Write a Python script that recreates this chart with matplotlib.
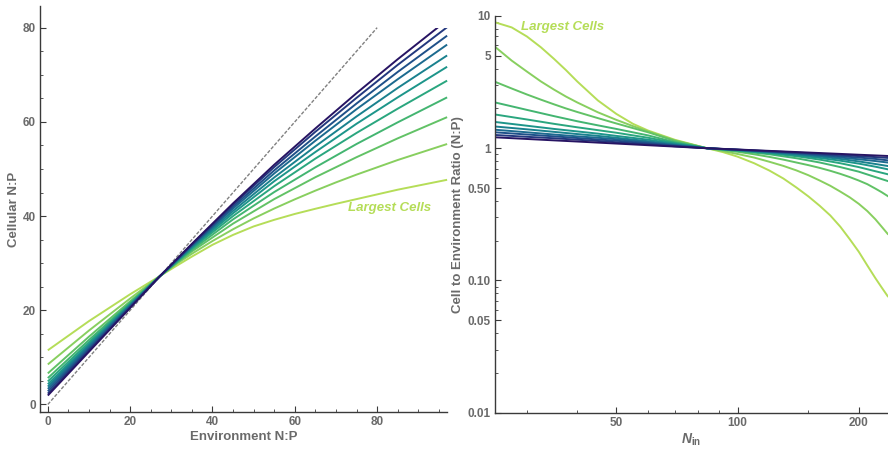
import matplotlib
matplotlib.use("Agg")
import matplotlib.pyplot as plt
from matplotlib.patches import Rectangle
from matplotlib.ticker import FixedLocator, NullFormatter, FixedFormatter

plt.rcParams['font.family'] = ['Liberation Sans', 'DejaVu Sans']
plt.rcParams['mathtext.fontset'] = 'custom'
plt.rcParams['mathtext.it'] = 'Liberation Sans:italic:bold'
plt.rcParams['mathtext.rm'] = 'Liberation Sans:bold'

# ---------------- data ----------------
# Left panel: cellular N:P vs environment N:P (smallest cells -> largest cells)
ENV_NP = [0, 10, 20, 27.3, 35, 45, 55, 65, 75, 85, 97]
ENV_NP_FINE = [0, 10, 20, 27.3, 31, 35, 40, 45, 50, 55, 60, 65, 70, 75, 85, 97]
CELL_NP_1 = [1.9, 11.2, 20.5, 27.3, 34.1, 42.7, 50.9, 58.6, 66.1, 73.3, 81.6]
CELL_NP_2 = [2.3, 11.5, 20.6, 27.3, 34.0, 42.4, 50.4, 57.9, 65.1, 72.1, 80.1]
CELL_NP_3 = [2.8, 11.8, 20.8, 27.3, 33.8, 42.0, 49.7, 56.9, 63.9, 70.6, 78.3]
CELL_NP_4 = [3.3, 12.15, 20.9, 27.3, 33.7, 41.6, 49.05, 56.0, 62.7, 69.05, 76.4]
CELL_NP_5 = [3.8, 12.5, 21.1, 27.3, 33.5, 41.1, 48.2, 54.8, 61.15, 67.2, 74.1]
CELL_NP_6 = [4.3, 12.8, 21.2, 27.3, 33.3, 40.6, 47.4, 53.6, 59.6, 65.2, 71.7]
CELL_NP_7 = [4.9, 13.2, 21.4, 27.3, 33.1, 40.0, 46.35, 52.2, 57.65, 62.8, 68.75]
CELL_NP_8 = [5.6, 13.7, 21.6, 27.3, 32.8, 39.3, 45.1, 50.35, 55.3, 59.9, 65.2]
CELL_NP_9 = [6.6, 14.4, 21.9, 27.3, 32.5, 38.4, 43.6, 48.25, 52.5, 56.5, 61.0]
CELL_NP_10 = [8.5, 15.7, 22.5, 27.3, 29.7, 32.0, 34.7, 37.2, 39.5, 41.6, 43.55,
              45.4, 47.15, 48.8, 51.9, 55.3]
CELL_NP_11 = [11.5, 17.7, 23.4, 27.3, 29.3, 31.4, 33.9, 36.0, 37.8, 39.2, 40.45,
              41.55, 42.6, 43.6, 45.6, 47.7]
CELL_NP = [CELL_NP_1, CELL_NP_2, CELL_NP_3, CELL_NP_4, CELL_NP_5, CELL_NP_6,
           CELL_NP_7, CELL_NP_8, CELL_NP_9, CELL_NP_10, CELL_NP_11]
ENV_GRIDS = [ENV_NP] * 9 + [ENV_NP_FINE, ENV_NP_FINE]
ONE_TO_ONE = [0, 80]

# Right panel: cell-to-environment N:P ratio vs N_in
N_IN = [25, 30, 35, 40, 45, 50, 60, 70, 84, 100, 120, 140, 160, 180, 200, 220, 236]
N_IN_FINE = [25, 27.5, 30, 32.5, 35, 37.5, 40, 45, 50, 55, 60, 70, 84, 92, 100, 110,
             120, 130, 140, 150, 160, 170, 180, 190, 200, 210, 220, 228, 236]
RATIO_1 = [1.21, 1.175, 1.147, 1.124, 1.103, 1.085, 1.054, 1.029, 1.0,
           0.978, 0.955, 0.936, 0.92, 0.906, 0.893, 0.882, 0.874]
RATIO_2 = [1.26, 1.22, 1.19, 1.16, 1.135, 1.11, 1.07, 1.035, 1.0,
           0.976, 0.95, 0.928, 0.908, 0.89, 0.872, 0.857, 0.845]
RATIO_3 = [1.32, 1.27, 1.23, 1.195, 1.165, 1.14, 1.09, 1.045, 1.0,
           0.974, 0.945, 0.92, 0.895, 0.87, 0.85, 0.83, 0.81]
RATIO_4 = [1.38, 1.32, 1.27, 1.23, 1.20, 1.17, 1.11, 1.055, 1.0,
           0.972, 0.94, 0.91, 0.88, 0.85, 0.825, 0.80, 0.78]
RATIO_5 = [1.46, 1.39, 1.33, 1.28, 1.24, 1.20, 1.13, 1.065, 1.0,
           0.97, 0.935, 0.9, 0.865, 0.83, 0.795, 0.76, 0.734]
RATIO_6 = [1.58, 1.48, 1.40, 1.34, 1.29, 1.24, 1.16, 1.08, 1.0,
           0.966, 0.925, 0.885, 0.845, 0.805, 0.765, 0.725, 0.693]
RATIO_7 = [1.80, 1.65, 1.53, 1.44, 1.37, 1.31, 1.2, 1.095, 1.0,
           0.962, 0.915, 0.87, 0.82, 0.77, 0.72, 0.67, 0.636]
RATIO_8 = [2.22, 1.95, 1.75, 1.6, 1.49, 1.4, 1.25, 1.11, 1.0,
           0.955, 0.9, 0.84, 0.78, 0.72, 0.665, 0.605, 0.565]
RATIO_9 = [3.18, 2.83, 2.55, 2.33, 2.15, 2.0, 1.88, 1.69, 1.54, 1.42, 1.32, 1.135, 1.0,
           0.97, 0.94, 0.9, 0.86, 0.82, 0.78, 0.745, 0.71, 0.675, 0.64, 0.605, 0.57,
           0.535, 0.495, 0.465, 0.435]
RATIO_10 = [5.85, 4.6, 3.8, 3.2, 2.78, 2.46, 2.22, 1.87, 1.64, 1.47, 1.34, 1.145, 1.0,
            0.952, 0.905, 0.85, 0.79, 0.735, 0.68, 0.625, 0.57, 0.52, 0.47, 0.425,
            0.38, 0.335, 0.29, 0.255, 0.225]
RATIO_11 = [8.96, 8.2, 7.0, 5.8, 4.75, 3.9, 3.2, 2.3, 1.82, 1.53, 1.36, 1.157, 1.0,
            0.935, 0.864, 0.77, 0.678, 0.59, 0.505, 0.432, 0.367, 0.31, 0.255, 0.205,
            0.165, 0.13, 0.104, 0.0885, 0.076]
RATIOS = [RATIO_1, RATIO_2, RATIO_3, RATIO_4, RATIO_5, RATIO_6,
          RATIO_7, RATIO_8, RATIO_9, RATIO_10, RATIO_11]
NIN_GRIDS = [N_IN] * 8 + [N_IN_FINE] * 3

LEFT_TICKS = [0, 20, 40, 60, 80]
RIGHT_XTICKS = [50, 100, 200]
RIGHT_YTICKS = [0.01, 0.05, 0.10, 0.50, 1, 5, 10]
RIGHT_YTICKLABELS = ['0.01', '0.05', '0.10', '0.50', '1', '5', '10']
ANNOT = 'Largest Cells'

# ---------------- style ----------------
COLORS = ['#271463', '#23387e', '#1f5089', '#1c6a8f', '#1a818e', '#1d958a',
          '#2aa67f', '#43b571', '#62c266', '#88cf5f', '#b5dd58']
TXT = '#6a6a6a'
AX = '#3a3a3a'
TICK_FS = 8.5
LABEL_FS = 9.5
ANNOT_FS = 9.5

fig = plt.figure(figsize=(8.88, 4.49), dpi=100)
axL = fig.add_axes([40 / 888, 1 - 412 / 449, (446.7 - 40) / 888, (412 - 6) / 449])
axR = fig.add_axes([495 / 888, 1 - 412.7 / 449, (888 - 495) / 888, (412.7 - 16) / 449])

for ax in (axL, axR):
    for s in ('top', 'right'):
        ax.spines[s].set_visible(False)
    for s in ('left', 'bottom'):
        ax.spines[s].set_color(AX)
        ax.spines[s].set_linewidth(1.0)
    ax.tick_params(which='both', direction='in', colors=AX, labelcolor=TXT,
                   labelsize=TICK_FS)
    ax.tick_params(which='major', length=4, width=0.8, pad=3)
    ax.tick_params(which='minor', length=2, width=0.6)

# ---- left panel ----
axL.plot(ONE_TO_ONE, ONE_TO_ONE, color='#808080', lw=1.0, dashes=(2.5, 1.2))
clip = Rectangle((-10, -10), 120, 90, transform=axL.transData)
for xs, ys, c in zip(ENV_GRIDS[::-1], CELL_NP[::-1], COLORS[::-1]):
    ln, = axL.plot(xs, ys, color=c, lw=1.4, solid_capstyle='butt')
    ln.set_clip_path(clip)
axL.set_xlim(-1.9, 96.9)
axL.set_ylim(-1.6, 84.6)
axL.set_xticks(LEFT_TICKS)
axL.set_yticks(LEFT_TICKS)
axL.xaxis.set_minor_locator(FixedLocator([v for v in range(5, 96, 5) if v % 20]))
axL.yaxis.set_minor_locator(FixedLocator([v for v in range(5, 84, 5) if v % 20]))
axL.set_xticklabels([str(v) for v in LEFT_TICKS], fontweight='bold')
axL.set_yticklabels([str(v) for v in LEFT_TICKS], fontweight='bold')
axL.set_xlabel('Environment N:P', fontsize=LABEL_FS, fontweight='bold', color=TXT,
               labelpad=2)
axL.set_ylabel('Cellular N:P', fontsize=LABEL_FS, fontweight='bold', color=TXT,
               labelpad=2)
axL.text(83.0, 41.7, ANNOT, color=COLORS[-1], fontsize=ANNOT_FS, fontweight='bold',
         fontstyle='italic', ha='center', va='center')

# ---- right panel ----
for xs, ys, c in zip(NIN_GRIDS[::-1], RATIOS[::-1], COLORS[::-1]):
    axR.plot(xs, ys, color=c, lw=1.4)
axR.set_xscale('log')
axR.set_yscale('log')
axR.set_xlim(25, 236.4)
axR.set_ylim(0.01, 10)
axR.xaxis.set_major_locator(FixedLocator(RIGHT_XTICKS))
axR.xaxis.set_major_formatter(FixedFormatter([str(v) for v in RIGHT_XTICKS]))
axR.xaxis.set_minor_locator(FixedLocator([30, 40, 60, 70, 80, 90, 150]))
axR.xaxis.set_minor_formatter(NullFormatter())
axR.yaxis.set_major_locator(FixedLocator(RIGHT_YTICKS))
axR.yaxis.set_major_formatter(FixedFormatter(RIGHT_YTICKLABELS))
minors = []
for d in (0.01, 0.1, 1):
    for m in (2, 3, 4, 6, 7, 8, 9):
        minors.append(d * m)
axR.yaxis.set_minor_locator(FixedLocator(minors))
axR.yaxis.set_minor_formatter(NullFormatter())
for ax in (axL, axR):
    for lab in ax.get_xticklabels() + ax.get_yticklabels():
        lab.set_fontweight('bold')
axR.set_xlabel(r'$N_{\mathrm{in}}$', fontsize=10, color=TXT, labelpad=2)
axR.set_ylabel('Cell to Environment Ratio (N:P)', fontsize=LABEL_FS, fontweight='bold',
               color=TXT, labelpad=3)
axR.text(36.8, 8.2, ANNOT, color=COLORS[-1], fontsize=ANNOT_FS, fontweight='bold',
         fontstyle='italic', ha='center', va='center')

fig.savefig('out.png', dpi=100)
